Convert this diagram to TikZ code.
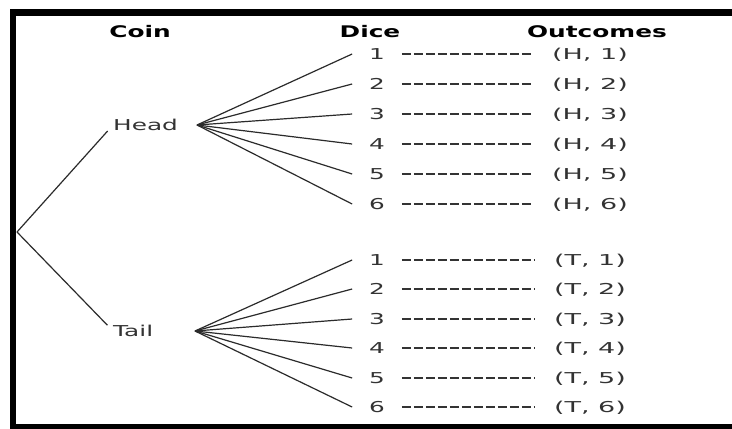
\documentclass[tikz,border=0pt]{standalone}
\usepackage{fontspec}
\setmainfont{DejaVu Sans}
\newfontfamily\lblfont[FakeStretch=1.65]{DejaVu Sans}
\newfontfamily\outfont[FakeStretch=1.8]{DejaVu Sans}
\newfontfamily\hdrfont[FakeStretch=1.55]{DejaVu Sans}
\definecolor{ink}{HTML}{2B2B2B}
\definecolor{txt}{HTML}{333333}
\tikzset{
  header/.style={inner sep=0pt, text height=12pt, text depth=0pt,
    font=\hdrfont\bfseries\fontsize{16}{18}\selectfont, text=black},
  coinlabel/.style={inner sep=0pt, text height=11pt, text depth=0pt,
    font=\lblfont\fontsize{15}{18}\selectfont, text=txt},
  digit/.style={coinlabel, outer xsep=17pt},
  outcome/.style={inner sep=0pt, outer xsep=19pt, text height=11pt, text depth=0pt,
    font=\outfont\fontsize{15}{18}\selectfont, text=txt},
  branch/.style={draw=ink, line width=1.2pt},
  leader/.style={draw=txt, line width=1.5pt, dash pattern=on 9.5pt off 2.5pt},
  frame/.style={fill=black, draw=none}
}
\begin{document}
\begin{tikzpicture}[x=1pt, y=-1pt]
  \useasboundingbox (0,0) rectangle (732,429);
  \fill[white] (0,0) rectangle (732,429);

  % heavy frame on the left, top and bottom
  \fill[frame] (10,9) rectangle (16,429);
  \fill[frame] (10,9) rectangle (732,16);
  \fill[frame] (10,424) rectangle (732,429);

  % column headings
  \node[header] (hcoin) at (140,31) {Coin};
  \node[header] (hdice) at (370,31) {Dice};
  \node[header] (hout)  at (597,31) {Outcomes};

  % coin stage
  \coordinate (root) at (17,232);
  \node[coinlabel, anchor=west] (head) at (113,125) {Head};
  \node[coinlabel, anchor=west] (tail) at (113,331) {Tail};
  \draw[branch, shorten >=8pt] (root) -- (head.west);
  \draw[branch, shorten >=8pt] (root) -- (tail.west);

  % fan origins right of the coin labels
  \coordinate (hf) at (197,125);
  \coordinate (tf) at (195,331);

  % dice and outcomes after Head
  \foreach \n/\y in {1/54,2/84,3/114,4/144,5/174,6/204}{
    \node[digit] (hd\n) at (377,\y) {\n};
    \node[outcome] (ho\n) at (590,\y) {(H, \n)};
    \draw[branch] (hf) -- (hd\n.west);
    \draw[leader] (hd\n.east) -- (ho\n.west);
  }

  % dice and outcomes after Tail
  \foreach \n/\y in {1/260,2/289,3/319,4/348,5/378,6/407}{
    \node[digit] (td\n) at (377,\y) {\n};
    \node[outcome] (to\n) at (590,\y) {(T, \n)};
    \draw[branch] (tf) -- (td\n.west);
    \draw[leader] (td\n.east) -- (to\n.west);
  }
\end{tikzpicture}
\end{document}
